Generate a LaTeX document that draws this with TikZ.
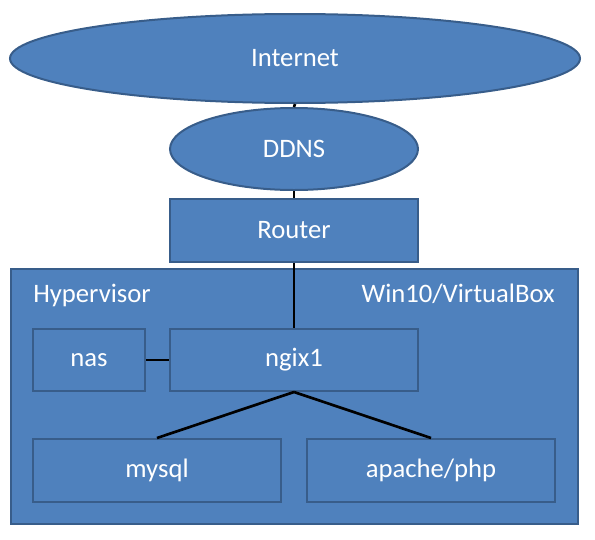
\documentclass[tikz,border=0pt]{standalone}
\usepackage{fontspec}
\setmainfont{Carlito}
\usetikzlibrary{shapes.geometric}
\definecolor{boxfill}{HTML}{4F81BD}
\definecolor{boxline}{HTML}{385D8A}

\begin{document}
\begin{tikzpicture}[x=0.75pt, y=-0.75pt,
        box/.style={rectangle, draw=boxline, fill=boxfill, line width=1.5pt, text=white, inner sep=0pt},
        blob/.style={ellipse, draw=boxline, fill=boxfill, line width=1.5pt, text=white, inner sep=0pt},
        wire/.style={line width=2pt},
        every node/.style={font=\fontsize{20}{24}\selectfont}]
            \useasboundingbox (0, 0) rectangle (595, 539);
            % host box
            \node[box, minimum width=425.25pt, minimum height=191.25pt] (hyper) at (294.5, 396.5) {};
            \node[text=white, anchor=base west, inner sep=0pt] (hyperlabel) at (33, 302) {Hypervisor};
            \node[text=white, anchor=base east, inner sep=0pt] (hostlabel) at (555, 302) {Win10/VirtualBox};
            % outside
            \node[blob, minimum width=427.5pt, minimum height=66.75pt] (internet) at (295, 58.5) {Internet};
            \node[blob, minimum width=186pt, minimum height=61.5pt] (ddns) at (294, 149) {DDNS};
            \node[box, minimum width=186pt, minimum height=47.25pt] (router) at (294, 230.5) {Router};
            % guests
            \node[box, minimum width=84pt, minimum height=46.5pt] (nas) at (89, 360) {nas};
            \node[box, minimum width=186pt, minimum height=46.5pt] (ngix) at (294, 360) {ngix1};
            \node[box, minimum width=186pt, minimum height=47.25pt] (mysql) at (157, 470.5) {mysql};
            \node[box, minimum width=186pt, minimum height=47.25pt] (apache) at (431, 470.5) {apache/php};
            \draw[wire] (internet.south) -- (ddns.north);
            \draw[wire] (ddns.south) -- (router.north);
            \draw[wire] (router.south) -- (ngix.north);
            \draw[wire] (nas.east) -- (ngix.west);
            \foreach \t in {mysql, apache}
            {
                \draw[wire] (ngix.south) -- (\t.north);
            }
        \end{tikzpicture}
\end{document}
